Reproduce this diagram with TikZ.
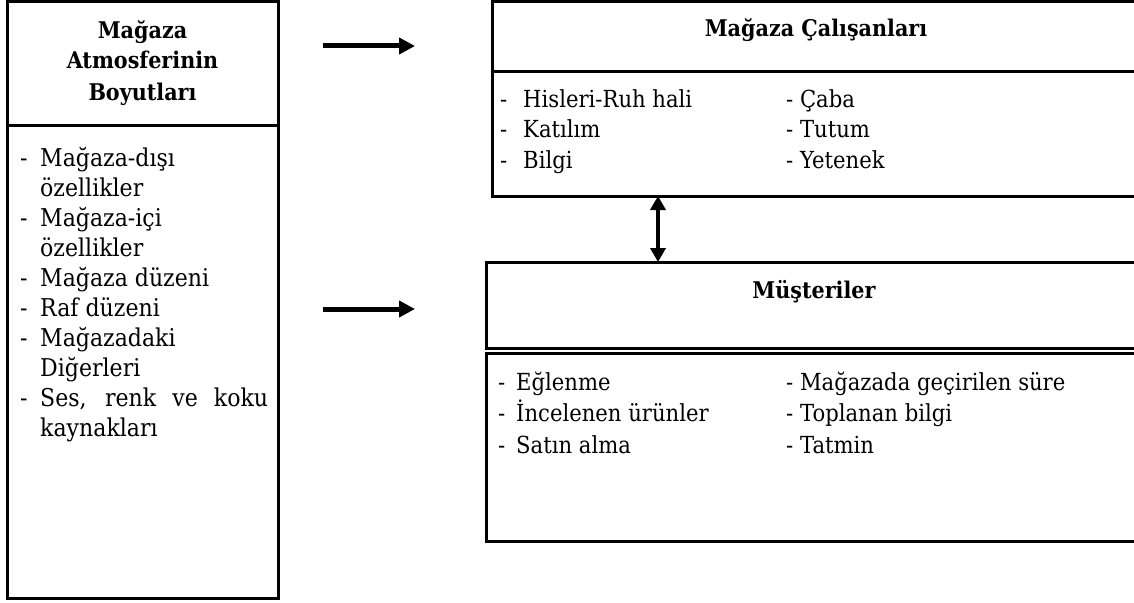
\documentclass[tikz,border=0pt]{standalone}
\usepackage{fontspec}
\setmainfont{DejaVu Serif}[FakeStretch=0.9]
\usetikzlibrary{arrows.meta}
\begin{document}
\begin{tikzpicture}[x=1pt,y=-1pt,
  frame/.style={draw, line width=3pt, inner sep=0pt, outer sep=0pt, anchor=north west},
  divider/.style={line width=3pt},
  ltitle/.style={font=\bfseries\fontsize{23}{27}\selectfont, inner sep=0pt, anchor=base},
  lbody/.style={font=\fontsize{24.5}{29}\selectfont, inner sep=0pt, anchor=base west},
  rbody/.style={font=\fontsize{23.5}{28}\selectfont, inner sep=0pt, anchor=base west},
  harrow/.style={line width=5pt, -{Triangle[length=16pt,width=16pt]}},
  varrow/.style={line width=3.5pt, {Triangle[length=14pt,width=15pt]}-{Triangle[length=14pt,width=15pt]}}
]
\path[use as bounding box] (0,0) rectangle (1134,602);
\clip (0,0) rectangle (1134,602);

% ---------- left box ----------
\node[frame, minimum width=271pt, minimum height=596pt] (lbox) at (7,2) {};
\coordinate (ldiv) at (0,125);
\draw[divider] (lbox.west |- ldiv) -- (lbox.east |- ldiv);
\node[ltitle] (lt1) at (142.5,38) {Mağaza};
\node[ltitle] (lt2) at (142.5,69) {Atmosferinin};
\node[ltitle] (lt3) at (142.5,100) {Boyutları};

\def\lb{166}\def\ls{30}
\node[lbody] (ld1) at (20,\lb) {-};
\node[lbody] (li1) at (40,\lb) {Mağaza-dışı};
\node[lbody] (li2) at (40,\lb+\ls) {özellikler};
\node[lbody] (ld3) at (20,\lb+2*\ls) {-};
\node[lbody] (li3) at (40,\lb+2*\ls) {Mağaza-içi};
\node[lbody] (li4) at (40,\lb+3*\ls) {özellikler};
\node[lbody] (ld5) at (20,\lb+4*\ls) {-};
\node[lbody] (li5) at (40,\lb+4*\ls) {Mağaza düzeni};
\node[lbody] (ld6) at (20,\lb+5*\ls) {-};
\node[lbody] (li6) at (40,\lb+5*\ls) {Raf düzeni};
\node[lbody] (ld7) at (20,\lb+6*\ls) {-};
\node[lbody] (li7) at (40,\lb+6*\ls) {Mağazadaki};
\node[lbody] (li8) at (40,\lb+7*\ls) {Diğerleri};
\node[lbody] (ld9) at (20,\lb+8*\ls) {-};
\node[lbody] (li9) at (40,\lb+8*\ls) {\makebox[228pt][s]{Ses, renk ve koku}};
\node[lbody] (li10) at (40,\lb+9*\ls) {kaynakları};

% ---------- arrows from left ----------
\coordinate (a1s) at (323,46);
\coordinate (a1e) at (415,46);
\coordinate (a2s) at (323,309);
\coordinate (a2e) at (415,309);
\draw[harrow] (a1s) -- (a1e);
\draw[harrow] (a2s) -- (a2e);

% ---------- employees box ----------
\node[frame, minimum width=648pt, minimum height=194pt] (emp) at (492,2) {};
\coordinate (ediv) at (0,71);
\draw[divider] (emp.west |- ediv) -- (emp.east |- ediv);
\coordinate (etb) at (0,37);
\node[ltitle] (empt) at (emp.center |- etb) {Mağaza Çalışanları};
\node[rbody] (ed1) at (500,107) {-};
\node[rbody] (ei1) at (523,107) {Hisleri-Ruh hali};
\node[rbody] (ed2) at (500,137.5) {-};
\node[rbody] (ei2) at (523,137.5) {Katılım};
\node[rbody] (ed3) at (500,168) {-};
\node[rbody] (ei3) at (523,168) {Bilgi};
\node[rbody] (ej1) at (786,107) {- Çaba};
\node[rbody] (ej2) at (786,137.5) {- Tutum};
\node[rbody] (ej3) at (786,168) {- Yetenek};

% ---------- customers ----------
\node[frame, minimum width=656pt, minimum height=86pt] (cust) at (486,262) {};
\coordinate (ctb) at (0,298);
\node[ltitle] (custt) at (cust.center |- ctb) {Müşteriler};
\node[frame, minimum width=656pt, minimum height=188pt] (cust2) at (486,353) {};
\node[rbody] (cd1) at (498,390) {-};
\node[rbody] (ci1) at (516,390) {Eğlenme};
\node[rbody] (cd2) at (498,421.5) {-};
\node[rbody] (ci2) at (516,421.5) {İncelenen ürünler};
\node[rbody] (cd3) at (498,453) {-};
\node[rbody] (ci3) at (516,453) {Satın alma};
\node[rbody] (cj1) at (786,390) {- Mağazada geçirilen süre};
\node[rbody] (cj2) at (786,421.5) {- Toplanan bilgi};
\node[rbody] (cj3) at (786,453) {- Tatmin};

% ---------- double arrow ----------
\coordinate (dax) at (658,0);
\draw[varrow] (emp.south -| dax) -- (cust.north -| dax);
\end{tikzpicture}
\end{document}
